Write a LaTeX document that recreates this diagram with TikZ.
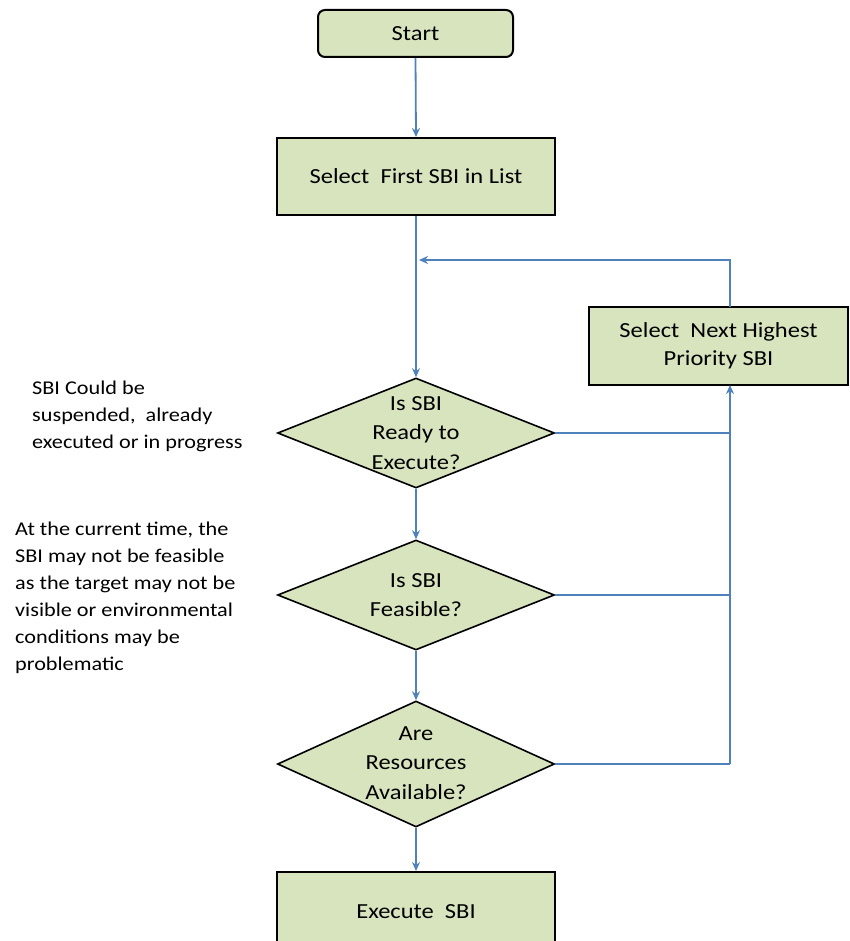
\documentclass[tikz,border=0pt]{standalone}
\usepackage{fontspec}
\setmainfont{Carlito}[FakeStretch=1.14]
\usetikzlibrary{shapes.geometric,arrows.meta}
\definecolor{boxfill}{HTML}{D7E4BD}
\definecolor{flowblue}{HTML}{4F81BD}
\begin{document}
\begin{tikzpicture}[x=1pt,y=-1pt,
  every node/.style={font=\fontsize{21.5}{28}\selectfont},
  procbox/.style={draw=black,line width=2pt,fill=boxfill,inner sep=0pt,align=center},
  decision/.style={diamond,draw=black,line width=1.6pt,fill=boxfill,inner sep=0pt,align=center},
  dlabel/.style={align=center,font=\fontsize{21.5}{29.5}\selectfont},
  note/.style={align=left,inner sep=0pt,anchor=north west,font=\fontsize{19.5}{27}\selectfont},
  flow/.style={draw=flowblue,line width=1.8pt,-{Stealth[length=9pt,width=8pt]}},
  link/.style={draw=flowblue,line width=1.8pt}]
\useasboundingbox (0,0) rectangle (849,941);

% process steps
\node[procbox,rounded corners=7pt,minimum width=195pt,minimum height=47pt] (start) at (415.5,33.5) {Start};
\node[procbox,minimum width=278pt,minimum height=77pt] (first) at (416,176.5) {Select~~First SBI in List};
\node[procbox,minimum width=259pt,minimum height=78pt] (next) at (718.5,346) {Select~~Next Highest\\Priority SBI};

% decisions
\node[decision,minimum width=277pt,minimum height=110pt,aspect=2.5] (ready) at (416,433) {};
\node[dlabel] (readyt) at (416,433) {Is SBI\\Ready to\\Execute?};
\node[decision,minimum width=277pt,minimum height=110pt,aspect=2.5] (feas) at (416,595) {};
\node[dlabel] (feast) at (416,595) {Is SBI\\Feasible?};
\node[decision,minimum width=277pt,minimum height=126pt,aspect=2.2] (res) at (416,764) {};
\node[dlabel] (rest) at (416,763) {Are\\Resources\\Available?};

\node[procbox,minimum width=278pt,minimum height=80pt] (exec) at (416,912) {Execute~~SBI};

% side notes
\node[note] (note1) at (32,381) {SBI Could be\\suspended,~~already\\executed or in progress};
\node[note] (note2) at (15,522) {At the current time, the\\SBI may not be feasible\\as the target may not be\\visible or environmental\\conditions may be\\problematic};

% main flow
\coordinate (loop) at (416,260);
\coordinate (corner) at (730,260);
\path[flow] (start.south) -- (first.north);
\path[link] (first.south) -- (loop);
\path[flow] (loop) -- (ready.north);
\path[flow] (ready.south) -- (feas.north);
\path[flow] (feas.south) -- (res.north);
\path[flow] (res.south) -- (exec.north);

% return path
\coordinate (nexttop) at (730,307);
\coordinate (nextbot) at (730,385);
\coordinate (j1) at (730,433);
\coordinate (j2) at (730,595);
\coordinate (j3) at (730,764);
\path[flow] (nexttop) -- (corner) -- (419,260);
\path[link] (ready.east) -- (j1);
\path[link] (feas.east) -- (j2);
\path[link] (res.east) -- (j3);
\path[flow] (j3) -- (nextbot);
\end{tikzpicture}
\end{document}
